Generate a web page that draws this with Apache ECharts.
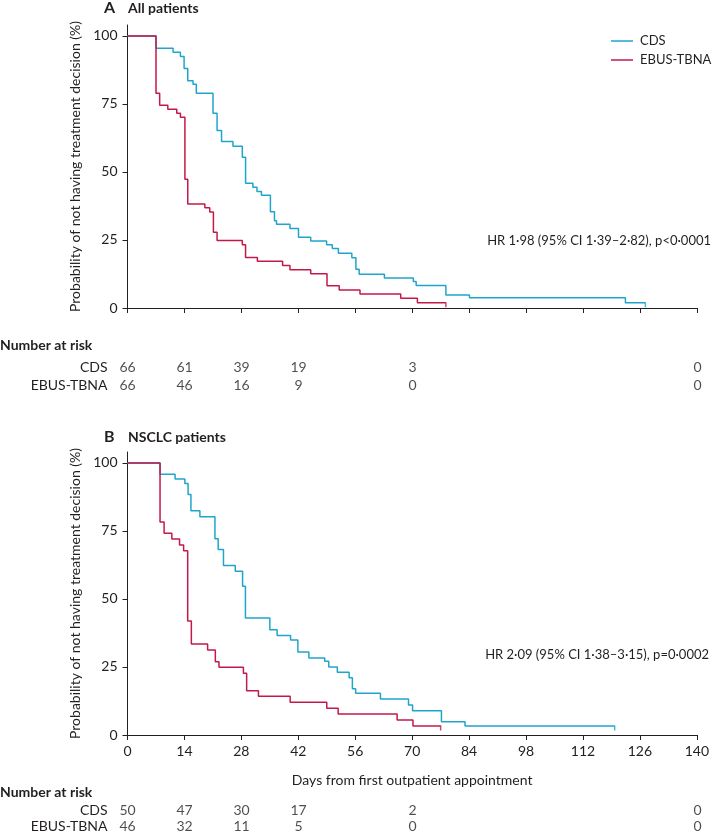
<!DOCTYPE html>
<html>
<head>
<meta charset="utf-8">
<script src="https://cdn.jsdelivr.net/npm/echarts@6/dist/echarts.min.js"></script>
<style>
html,body{margin:0;padding:0;background:#fff;}
#c{width:712px;height:835px;}
</style>
</head>
<body>
<div id="c"></div>
<script>
// ---- data ----
var cdsA_days = [0, 7, 11.2, 13, 13.9, 14.8, 16.1, 16.9, 21, 22, 23.1, 25.9, 28.2, 29, 30.8, 31.8, 32.9, 35.1, 36.1, 36.6, 39.9, 42, 45, 48.9, 50.3, 51.8, 55.1, 56.1, 56.9, 63.1, 70.2, 70.9, 78.2, 84, 122.3, 127.2];
var cdsA_vals = [100, 95.5, 94, 92.4, 88, 83.5, 82.2, 78.9, 71.6, 65.2, 61.2, 59.4, 55.4, 45.8, 44.4, 42.8, 41.4, 35.4, 32.1, 30.8, 29.2, 26, 24.6, 23.2, 21.9, 20.1, 18.5, 14.2, 12.4, 11, 9.7, 8.3, 4.8, 3.8, 1.9, 1.9];
var ebusA_days = [0, 7, 7.9, 9.9, 12.1, 13, 14.1, 14.8, 19, 20.2, 21.1, 22, 28.2, 29, 31.9, 38.1, 39.9, 45, 49, 52, 57.1, 67.1, 71.2, 78.2];
var ebusA_vals = [100, 78.9, 74.5, 73, 71.6, 70.1, 47.3, 38.2, 36.8, 35.3, 27.8, 24.8, 23.2, 18.6, 17.2, 15.6, 14.1, 12.6, 8.2, 6.6, 5.1, 3.6, 1.9, 1.9];

var cdsB_days = [0, 8, 11.7, 14.1, 14.9, 15.6, 17.8, 21.5, 22.3, 23.6, 26.5, 28.3, 29, 35, 36.8, 40.1, 41.9, 44.6, 48.5, 49.5, 51.6, 54.5, 55.3, 56.1, 62.2, 69.1, 70.1, 77.2, 83, 119.8];
var cdsB_vals = [100, 95.8, 94.1, 92.4, 88.4, 82.4, 80.2, 72.1, 68.2, 62.3, 60.2, 54.7, 43, 38.7, 36.6, 34.9, 30.5, 28.3, 27.1, 25, 23.1, 21, 17, 15.3, 13.2, 11, 8.9, 4.9, 3.3, 3.3];
var ebusB_days = [0, 8, 9, 10.9, 12.8, 13.8, 14.8, 15.7, 19.7, 21.6, 22.5, 28.5, 29.3, 32.2, 40, 49, 51.8, 66.3, 70.2, 77];
var ebusB_vals = [100, 78.3, 74.1, 72, 69.8, 67.7, 41.9, 33.4, 31.2, 26.9, 24.9, 22.7, 16.3, 14.2, 12, 9.8, 7.7, 5.5, 3.3, 3.3];

var riskTimes = [0, 14, 28, 42, 70, 140];
var riskA_cds = [66, 61, 39, 19, 3, 0];
var riskA_ebus = [66, 46, 16, 9, 0, 0];
var riskB_cds = [50, 47, 30, 17, 2, 0];
var riskB_ebus = [46, 32, 11, 5, 0, 0];

var groups = ['CDS', 'EBUS-TBNA'];
var yTicks = [0, 25, 50, 75, 100];
var xTickStep = 14;
var hrA = 'HR 1·98 (95% CI 1·39–2·82), p<0·0001';
var hrB = 'HR 2·09 (95% CI 1·38–3·15), p=0·0002';
var yName = 'Probability of not having treatment decision (%)';
var xName = 'Days from first outpatient appointment';

// ---- styling ----
var FONT = 'Lato';
var FS = 14;
var TXT = '#231f20';
var C_CDS = '#1fa5cc';
var C_EBUS = '#c3194a';

function zip(a, b) { return a.map(function (v, i) { return [v, b[i]]; }); }
function last(a, b) { return [[a[a.length - 1], b[b.length - 1]]]; }
function riskData(vals, row) { return riskTimes.map(function (t, i) { return [t, row, vals[i]]; }); }

var plotLeft = 127.5, plotWidth = 570;

function kmXAxis(gi, showLabels) {
  return {
    gridIndex: gi, type: 'value', min: 0, max: 140, interval: xTickStep,
    axisLine: { lineStyle: { color: TXT, width: 1 } },
    axisTick: { show: true, length: 5, lineStyle: { color: TXT } },
    splitLine: { show: false },
    axisLabel: { show: showLabels, color: TXT, fontFamily: FONT, fontSize: FS, margin: 9 },
    name: showLabels ? xName : '', nameLocation: 'middle', nameGap: 38,
    nameTextStyle: { color: TXT, fontFamily: FONT, fontSize: FS }
  };
}
function kmYAxis(gi) {
  return {
    gridIndex: gi, type: 'value', min: 0, max: 104,
    axisLine: { show: true, lineStyle: { color: TXT, width: 1 } },
    axisTick: { show: true, length: 5, customValues: yTicks, lineStyle: { color: TXT } },
    axisLabel: { color: TXT, fontFamily: FONT, fontSize: FS, margin: 10, customValues: yTicks },
    splitLine: { show: false },
    name: yName, nameLocation: 'middle', nameGap: 44, nameRotate: 90,
    nameTextStyle: { color: TXT, fontFamily: FONT, fontSize: FS }
  };
}
function riskXAxis(gi) {
  return { gridIndex: gi, type: 'value', min: 0, max: 140, show: false };
}
function riskYAxis(gi) {
  return {
    gridIndex: gi, type: 'category', data: groups, inverse: true,
    axisLine: { show: false }, axisTick: { show: false },
    axisLabel: { color: TXT, fontFamily: FONT, fontSize: FS, margin: 20, interval: 0 }
  };
}
function kmSeries(name, color, days, vals, gi) {
  return [{
    name: name, type: 'line', step: 'end', xAxisIndex: gi, yAxisIndex: gi,
    data: zip(days, vals), showSymbol: false, symbol: 'none',
    lineStyle: { color: color, width: 1.5 }, itemStyle: { color: color },
    emphasis: { disabled: true }, silent: true
  }, {
    name: name + '_end', type: 'scatter', xAxisIndex: gi, yAxisIndex: gi,
    data: last(days, vals), symbol: 'rect', symbolSize: [1.5, 5], symbolOffset: [0, 2],
    itemStyle: { color: color }, silent: true
  }];
}
function riskSeries(id, vals, row, gi) {
  return {
    name: id, type: 'scatter', xAxisIndex: gi, yAxisIndex: gi,
    data: riskData(vals, row), symbolSize: 1, itemStyle: { color: 'rgba(0,0,0,0)' },
    label: { show: true, position: 'inside', color: TXT, fontFamily: FONT, fontSize: FS,
      formatter: function (p) { return String(p.value[2]); } },
    silent: true
  };
}

var option = {
  animation: false,
  backgroundColor: '#fff',
  textStyle: { fontFamily: FONT },
  grid: [
    { left: plotLeft, width: plotWidth, top: 25, height: 283 },
    { left: plotLeft, width: plotWidth, top: 452, height: 283 },
    { left: plotLeft, width: plotWidth, top: 358, height: 36 },
    { left: plotLeft, width: plotWidth, top: 802, height: 36 }
  ],
  xAxis: [kmXAxis(0, false), kmXAxis(1, true), riskXAxis(2), riskXAxis(3)],
  yAxis: [kmYAxis(0), kmYAxis(1), riskYAxis(2), riskYAxis(3)],
  legend: {
    data: [{ name: 'CDS', icon: 'rect' }, { name: 'EBUS-TBNA', icon: 'rect' }],
    orient: 'vertical', left: 611, top: 33, itemWidth: 22, itemHeight: 1.5, itemGap: 3,
    padding: 0, width: 101,
    textStyle: { color: TXT, fontFamily: FONT, fontSize: 13, lineHeight: 16, padding: [0, 0, 0, 2] },
    selectedMode: false
  },
  series: [].concat(
    kmSeries('CDS', C_CDS, cdsA_days, cdsA_vals, 0),
    kmSeries('EBUS-TBNA', C_EBUS, ebusA_days, ebusA_vals, 0),
    kmSeries('CDS', C_CDS, cdsB_days, cdsB_vals, 1),
    kmSeries('EBUS-TBNA', C_EBUS, ebusB_days, ebusB_vals, 1),
    [riskSeries('rA1', riskA_cds, 0, 2), riskSeries('rA2', riskA_ebus, 1, 2),
     riskSeries('rB1', riskB_cds, 0, 3), riskSeries('rB2', riskB_ebus, 1, 3)]
  ),
  graphic: [
    { type: 'text', left: 104, top: 0, style: { text: 'A', font: 'bold 16px ' + FONT, fill: TXT } },
    { type: 'text', left: 128, top: 1, style: { text: 'All patients', font: 'bold 14px ' + FONT, fill: TXT } },
    { type: 'text', left: 104, top: 429, style: { text: 'B', font: 'bold 16px ' + FONT, fill: TXT } },
    { type: 'text', left: 128, top: 430, style: { text: 'NSCLC patients', font: 'bold 14px ' + FONT, fill: TXT } },
    { type: 'text', left: 0, top: 338, style: { text: 'Number at risk', font: 'bold 14px ' + FONT, fill: TXT } },
    { type: 'text', left: 0, top: 785, style: { text: 'Number at risk', font: 'bold 14px ' + FONT, fill: TXT } },
    { type: 'text', right: 1, top: 234, style: { text: hrA, font: '13px ' + FONT, fill: TXT } },
    { type: 'text', right: 3, top: 648, style: { text: hrB, font: '13px ' + FONT, fill: TXT } }
  ]
};

var chart = echarts.init(document.getElementById('c'), null, { renderer: 'canvas' });
chart.setOption(option);
</script>
</body>
</html>
